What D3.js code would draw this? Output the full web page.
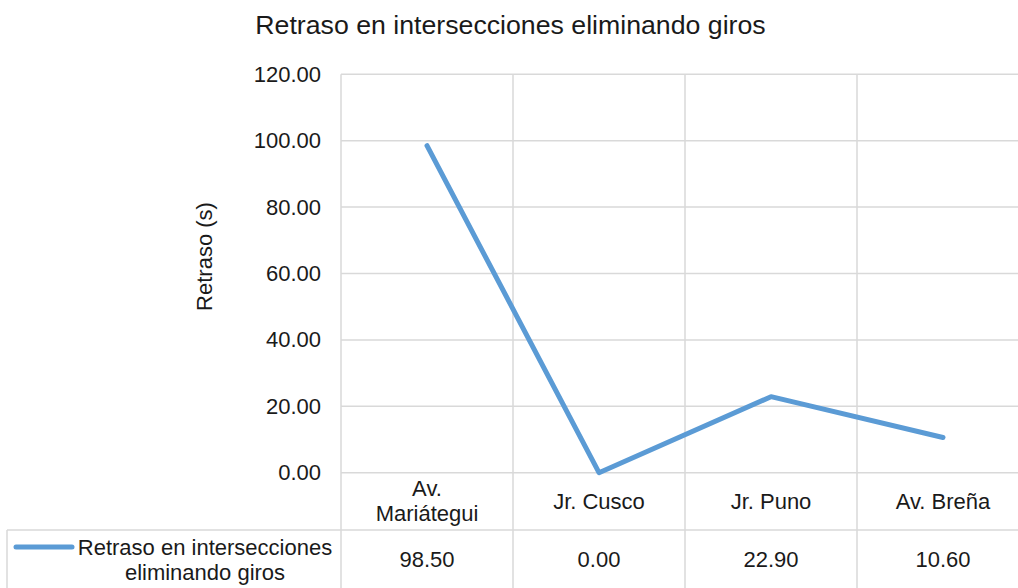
<!DOCTYPE html>
<html>
<head>
<meta charset="utf-8">
<script src="https://cdn.jsdelivr.net/npm/d3@7"></script>
<style>
  html, body { margin: 0; padding: 0; background: #fff; }
  svg { display: block; font-family: "Liberation Sans", Arial, sans-serif; }
</style>
</head>
<body>
<svg id="chart" width="1018" height="588"></svg>
<script>
// Data
const categories = ["Av. Mariátegui", "Jr. Cusco", "Jr. Puno", "Av. Breña"];
const categoryLines = [["Av.", "Mariátegui"], ["Jr. Cusco"], ["Jr. Puno"], ["Av. Breña"]];
const seriesName = "Retraso en intersecciones eliminando giros";
const seriesNameLines = ["Retraso en intersecciones", "eliminando giros"];
const delays = [98.50, 0.00, 22.90, 10.60];
const yTicks = [0, 20, 40, 60, 80, 100, 120];
const chartTitle = "Retraso en intersecciones eliminando giros";
const yTitle = "Retraso (s)";

const W = 1018, H = 588;
const plot = { left: 341, top: 74.3, bottom: 472.7, band: 172 };
const tableRow2 = 530;
const gridColor = "#d9d9d9";
const textColor = "#1a1a1a";
const lineColor = "#5b9bd5";
const fontSize = "22px";

const svg = d3.select("#chart");

const x = d3.scaleBand()
  .domain(categories)
  .range([plot.left, plot.left + plot.band * categories.length])
  .paddingInner(0).paddingOuter(0);

const y = d3.scaleLinear()
  .domain([0, 120])
  .range([plot.bottom, plot.top]);

const plotRight = plot.left + plot.band * categories.length;

// Horizontal gridlines
svg.append("g")
  .selectAll("line")
  .data(yTicks)
  .join("line")
  .attr("x1", plot.left).attr("x2", plotRight)
  .attr("y1", d => y(d)).attr("y2", d => y(d))
  .attr("stroke", gridColor).attr("stroke-width", 1.5);

// Vertical category boundaries, running through the data table
const bounds = categories.map(c => x(c)).concat([plotRight]);
svg.append("g")
  .selectAll("line")
  .data(bounds)
  .join("line")
  .attr("x1", d => d).attr("x2", d => d)
  .attr("y1", plot.top).attr("y2", H)
  .attr("stroke", gridColor).attr("stroke-width", 1.5);

// Data table: row separator and legend cell border
svg.append("line")
  .attr("x1", 7).attr("x2", plotRight)
  .attr("y1", tableRow2).attr("y2", tableRow2)
  .attr("stroke", gridColor).attr("stroke-width", 1.5);
svg.append("line")
  .attr("x1", 7).attr("x2", 7)
  .attr("y1", tableRow2).attr("y2", H)
  .attr("stroke", gridColor).attr("stroke-width", 1.5);

// Y axis labels
const yAxis = d3.axisLeft(y)
  .tickValues(yTicks)
  .tickFormat(d3.format(".2f"))
  .tickSize(0)
  .tickPadding(20);
const gy = svg.append("g")
  .attr("transform", `translate(${plot.left},0)`)
  .call(yAxis);
gy.select(".domain").remove();
gy.selectAll("text")
  .attr("fill", textColor)
  .style("font-size", fontSize)
  .style("font-family", "'Liberation Sans', Arial, sans-serif");

// Category labels (table header row)
const cat = svg.append("g");
categoryLines.forEach((lines, i) => {
  const cx = x(categories[i]) + x.bandwidth() / 2;
  const mid = (plot.bottom + tableRow2) / 2;
  const lh = 25;
  const t = cat.append("text")
    .attr("text-anchor", "middle")
    .attr("fill", textColor)
    .style("font-size", fontSize);
  lines.forEach((ln, j) => {
    t.append("tspan")
      .attr("x", cx)
      .attr("y", mid + 7.5 + (j - (lines.length - 1) / 2) * lh)
      .text(ln);
  });
});

// Value row
const valRowMid = (tableRow2 + H) / 2 + 0.5;
svg.append("g")
  .selectAll("text")
  .data(delays)
  .join("text")
  .attr("x", (d, i) => x(categories[i]) + x.bandwidth() / 2)
  .attr("y", valRowMid + 7.5)
  .attr("text-anchor", "middle")
  .attr("fill", textColor)
  .style("font-size", fontSize)
  .text(d => d3.format(".2f")(d));

// Legend key and series name
svg.append("line")
  .attr("x1", 16).attr("x2", 72)
  .attr("y1", 547).attr("y2", 547)
  .attr("stroke", lineColor).attr("stroke-width", 5)
  .attr("stroke-linecap", "round");
const lg = svg.append("text")
  .attr("text-anchor", "middle")
  .attr("fill", textColor)
  .style("font-size", fontSize);
seriesNameLines.forEach((ln, j) => {
  lg.append("tspan").attr("x", 205).attr("y", 554.5 + j * 25).text(ln);
});

// Series line
const line = d3.line()
  .x((d, i) => x(categories[i]) + x.bandwidth() / 2)
  .y(d => y(d));
svg.append("path")
  .datum(delays)
  .attr("d", line)
  .attr("fill", "none")
  .attr("stroke", lineColor)
  .attr("stroke-width", 5)
  .attr("stroke-linecap", "round")
  .attr("stroke-linejoin", "round");

// Titles
svg.append("text")
  .attr("x", 510.5).attr("y", 34)
  .attr("text-anchor", "middle")
  .attr("fill", textColor)
  .style("font-size", "26.7px")
  .text(chartTitle);

svg.append("text")
  .attr("transform", `translate(212,${(plot.top + plot.bottom) / 2 - 17}) rotate(-90)`)
  .attr("text-anchor", "middle")
  .attr("fill", textColor)
  .style("font-size", fontSize)
  .text(yTitle);
</script>
</body>
</html>
